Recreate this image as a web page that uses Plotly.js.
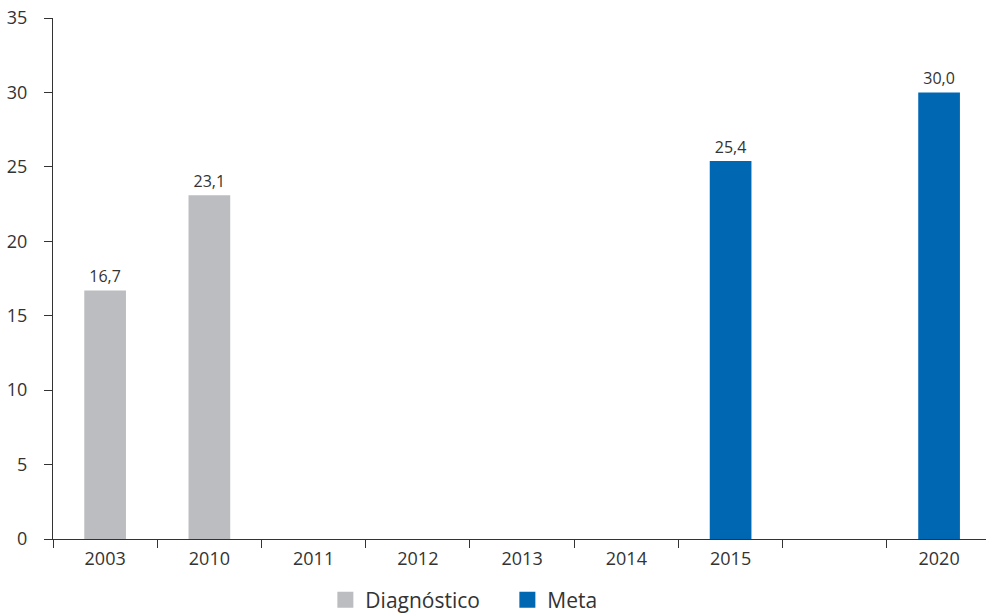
<!DOCTYPE html>
<html>
<head>
<meta charset="utf-8">
<script src="https://cdn.plot.ly/plotly-3.0.1.min.js"></script>
<style>html,body{margin:0;padding:0;background:#fff}#chart{width:986px;height:616px}</style>
</head>
<body>
<div id="chart"></div>
<script>
const categories = ['2003', '2010', '2011', '2012', '2013', '2014', '2015', ' ', '2020'];
const seriesNames = ['Diagnóstico', 'Meta'];
const seriesColors = ['#bcbdc0', '#0068b3'];
const diagYears = ['2003', '2010'];
const diagValues = [16.7, 23.1];
const metaYears = ['2015', '2020'];
const metaValues = [25.4, 30.0];
const yTicks = [0, 5, 10, 15, 20, 25, 30, 35];

const textFont = {family: 'Open Sans, Noto Sans, sans-serif', size: 16, color: '#333'};

const barTrace = (name, color, xs, ys) => ({
  type: 'bar', name: name, x: xs, y: ys, showlegend: false,
  marker: {color: color}, width: 0.4,
  texttemplate: '%{y:.1f}', textposition: 'outside', textfont: textFont,
  cliponaxis: false, hoverinfo: 'skip'
});
// legend-only entries with larger square swatches
const legendTrace = (name, color) => ({
  type: 'scatter', mode: 'markers', name: name, x: [null], y: [null],
  marker: {symbol: 'square', size: 18, color: color}, hoverinfo: 'skip'
});

const traces = [
  barTrace(seriesNames[0], seriesColors[0], diagYears, diagValues),
  barTrace(seriesNames[1], seriesColors[1], metaYears, metaValues),
  legendTrace(seriesNames[0], seriesColors[0]),
  legendTrace(seriesNames[1], seriesColors[1])
];

const layout = {
  width: 986, height: 616,
  margin: {l: 53, r: 0, t: 18, b: 77, autoexpand: false},
  paper_bgcolor: '#fff', plot_bgcolor: '#fff',
  separators: ',.',
  barmode: 'overlay',
  font: {family: 'Open Sans, Noto Sans, sans-serif', color: '#333'},
  xaxis: {
    type: 'category', categoryorder: 'array', categoryarray: categories,
    tickvals: categories, ticktext: categories,
    range: [-0.5, 8.45], tickson: 'boundaries',
    ticks: 'outside', ticklen: 8, tickcolor: '#333', tickwidth: 1,
    showline: true, linecolor: '#333', linewidth: 1,
    showgrid: false, zeroline: false, automargin: false,
    ticklabelstandoff: 3,
    tickfont: {size: 18, color: '#333'}
  },
  yaxis: {
    range: [0, 35], tickvals: yTicks,
    ticks: 'outside', ticklen: 8, tickcolor: '#333', tickwidth: 1,
    showline: true, linecolor: '#333', linewidth: 1,
    showgrid: false, zeroline: false, automargin: false,
    ticklabelstandoff: 13,
    tickfont: {size: 18, color: '#333'}
  },
  showlegend: true,
  legend: {
    orientation: 'h', x: 0.487, xanchor: 'center',
    yref: 'container', y: 0.026, yanchor: 'middle',
    font: {size: 21, color: '#333'}, itemwidth: 30, traceorder: 'normal',
    entrywidth: 137
  }
};

Plotly.newPlot('chart', traces, layout, {displayModeBar: false, staticPlot: true});
</script>
</body>
</html>
